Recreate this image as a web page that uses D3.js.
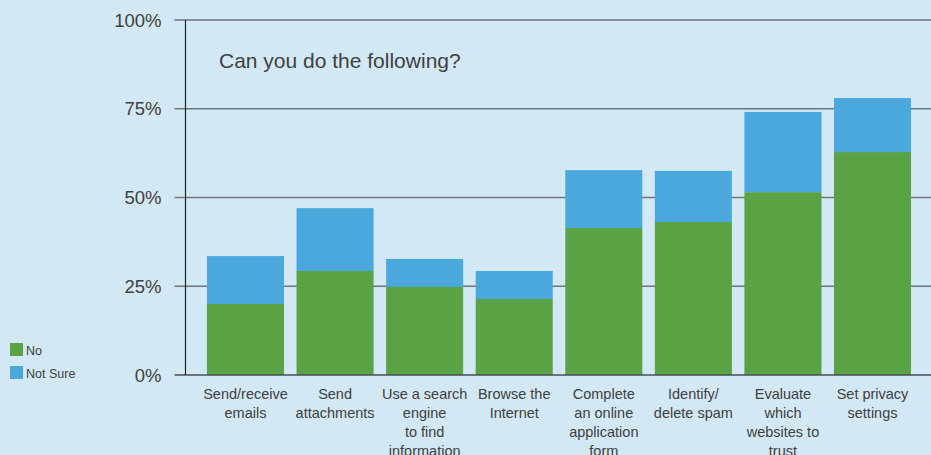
<!DOCTYPE html>
<html>
<head>
<meta charset="utf-8">
<script src="https://cdn.jsdelivr.net/npm/d3@7"></script>
<style>
  html, body { margin: 0; padding: 0; background: #d3e8f5; }
  svg { display: block; }
  text { font-family: "Liberation Sans", Arial, Helvetica, sans-serif; fill: #404040; }
</style>
</head>
<body>
<svg id="chart" width="931" height="455"></svg>
<script>
// Survey categories (multi-line labels)
const categories = [
  ["Send/receive", "emails"],
  ["Send", "attachments"],
  ["Use a search", "engine", "to find", "information"],
  ["Browse the", "Internet"],
  ["Complete", "an online", "application", "form"],
  ["Identify/", "delete spam"],
  ["Evaluate", "which", "websites to", "trust"],
  ["Set privacy", "settings"]
];
// Share of respondents, in percent
const noValues      = [20.0, 29.3, 24.8, 21.4, 41.4, 43.1, 51.5, 62.8];
const notSureValues = [13.5, 17.7, 7.9, 7.9, 16.3, 14.4, 22.6, 15.2];
const tickValues = [0, 25, 50, 75, 100];
const tickLabels = ["0%", "25%", "50%", "75%", "100%"];
const seriesNames = ["No", "Not Sure"];
const seriesColors = ["#59a345", "#4aa8dc"];
const title = "Can you do the following?";

const svg = d3.select("#chart");
const axisX = 185.5;

const x = d3.scaleBand()
  .domain(d3.range(categories.length))
  .range([200.7, 917.3])
  .paddingInner(0.14)
  .paddingOuter(0.07);

const y = d3.scaleLinear().domain([0, 100]).range([375, 20]);

// Horizontal gridlines with short outward ticks
svg.append("g").selectAll("line")
  .data(tickValues.filter(v => v > 0))
  .join("line")
  .attr("x1", axisX - 11).attr("x2", 931)
  .attr("y1", d => y(d)).attr("y2", d => y(d))
  .attr("stroke", "#6f757c").attr("stroke-width", 1.6);

// Tick labels
svg.append("g").selectAll("text")
  .data(tickValues)
  .join("text")
  .attr("x", 161.5).attr("y", d => y(d) + 6.5)
  .attr("text-anchor", "end")
  .attr("font-size", 18.5)
  .text((d, i) => tickLabels[i]);

// Stacked bars
const stacked = categories.map((c, i) => ({ i, no: noValues[i], notSure: notSureValues[i] }));
const stack = d3.stack().keys(["no", "notSure"])(stacked);

svg.append("g").selectAll("g")
  .data(stack)
  .join("g")
  .attr("fill", (d, k) => seriesColors[k])
  .selectAll("rect")
  .data(d => d)
  .join("rect")
  .attr("x", d => x(d.data.i))
  .attr("width", x.bandwidth())
  .attr("y", d => y(d[1]))
  .attr("height", d => y(d[0]) - y(d[1]));

// Baseline and vertical axis on top
svg.append("line")
  .attr("x1", axisX - 11).attr("x2", 931)
  .attr("y1", y(0)).attr("y2", y(0))
  .attr("stroke", "#4a4f55").attr("stroke-width", 1.6);
svg.append("line")
  .attr("x1", axisX).attr("x2", axisX)
  .attr("y1", y(100)).attr("y2", y(0))
  .attr("stroke", "#222").attr("stroke-width", 1.2);

// Category labels
const lab = svg.append("g").selectAll("text")
  .data(categories)
  .join("text")
  .attr("text-anchor", "middle")
  .attr("font-size", 14.5)
  .attr("transform", (d, i) => `translate(${x(i) + x.bandwidth() / 2},${399})`);
lab.selectAll("tspan")
  .data(d => d)
  .join("tspan")
  .attr("x", 0)
  .attr("dy", (d, j) => j === 0 ? 0 : 19)
  .text(d => d);

// Title
svg.append("text")
  .attr("x", 219).attr("y", 68)
  .attr("font-size", 21)
  .text(title);

// Legend
const leg = svg.append("g").selectAll("g")
  .data(seriesNames)
  .join("g")
  .attr("transform", (d, i) => `translate(10,${343 + i * 23})`);
leg.append("rect")
  .attr("width", 13).attr("height", 13)
  .attr("fill", (d, i) => seriesColors[i]);
leg.append("text")
  .attr("x", 16).attr("y", 11.5)
  .attr("font-size", 12.5)
  .text(d => d);
</script>
</body>
</html>
